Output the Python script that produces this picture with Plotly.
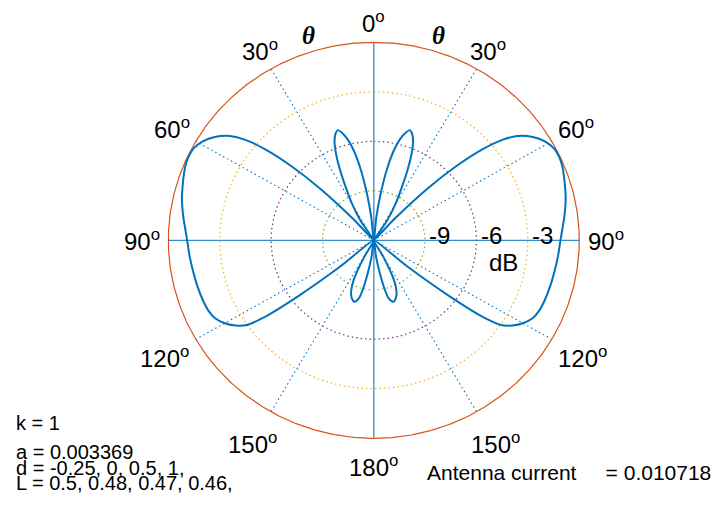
import numpy as np
import plotly.graph_objects as go

# Radiation pattern (one half; the pattern is symmetric about the 0-180 axis)
THETA_DEG = [0, 6, 8, 10, 12, 14, 16, 17.5, 19, 21, 23, 25, 27, 30, 33, 39,
             43, 45, 47, 49, 51, 53, 56, 59, 62, 65, 68, 71, 74, 77, 80, 83, 86,
             90, 95, 100, 105, 110, 114, 117, 120, 122.5, 124.5, 126, 127.5, 129,
             140, 151, 154, 157, 160, 163, 166, 168, 170, 172.5, 180]
GAIN_DB = [-12, -10.6, -9.2, -7.7, -6.5, -5.7, -5.2, -5.0, -5.15, -5.6, -6.4, -7.4, -8.4, -9.5, -10.6, -12,
           -10.2, -7.6, -5.4, -3.6, -2.3, -1.5, -0.8, -0.35, -0.1, -0.05, -0.12, -0.25, -0.38, -0.5, -0.65, -0.8, -0.95,
           -1.1, -1.2, -1.28, -1.33, -1.38, -1.45, -1.6, -1.95, -2.4, -2.9, -4.0, -6.5, -9.5,
           -12, -10.8, -9.3, -8.6, -8.25, -8.1, -8.35, -9.0, -10.0, -11.0, -12]

# Polar grid
R_MIN, R_MAX = -12.0, 0.0
RING_DB = [-9, -6, -3]
RING_COLORS = ["#77AC30", "#7E2F8E", "#EDB120"]
OUTER_COLOR = "#D95319"
SPOKE_DEG = [30, 60, 120, 150, 210, 240, 300, 330]
ANGLE_TICKS = [0, 30, 60, 90, 120, 150, 180, 210, 240, 270, 300, 330]
ANGLE_TEXT = ["0", "30", "60", "90", "120", "150", "180", "150", "120", "90", "60", "30"]

# Annotation block
PARAM_LINES = ["a = 0.003369", "d = -0.25, 0, 0.5, 1,", "L = 0.5, 0.48, 0.47, 0.46,"]
K_TEXT = "k = 1"
CURRENT_LABEL = "Antenna current"
CURRENT_VALUE = 0.010718

BLUE = "#0072BD"
W, H = 716, 505
CX, CY, RX, RY = 373.8, 240.3, 205.5, 198.0   # pixel centre and radii of the 0 dB circle


def to_r(db):
    return np.clip((np.asarray(db, float) - R_MIN) / (R_MAX - R_MIN), 0, None)


def xy(theta_deg, r):
    t = np.radians(np.asarray(theta_deg, float))
    return r * np.sin(t), r * np.cos(t)


def paper(px, py):
    return px / W, 1 - py / H


fig = go.Figure()

# dotted radial spokes
for a in SPOKE_DEG:
    x, y = xy([a, a], np.array([0.0, 1.0]))
    fig.add_trace(go.Scatter(x=x, y=y, mode="lines", hoverinfo="skip",
                             line=dict(color=BLUE, width=1.1, dash="1.5px,3px")))

# dotted rings and solid outer circle
circ = np.linspace(0, 360, 721)
for lvl, col in zip(RING_DB, RING_COLORS):
    x, y = xy(circ, to_r(np.full_like(circ, lvl)))
    fig.add_trace(go.Scatter(x=x, y=y, mode="lines", hoverinfo="skip",
                             line=dict(color=col, width=1.2, dash="1.5px,3px")))
x, y = xy(circ, to_r(np.full_like(circ, R_MAX)))
fig.add_trace(go.Scatter(x=x, y=y, mode="lines", hoverinfo="skip",
                         line=dict(color=OUTER_COLOR, width=1.2)))

# axis lines through the centre
x, y = xy([0, 180], np.array([1.0, 1.0]))
fig.add_trace(go.Scatter(x=x, y=y, mode="lines", hoverinfo="skip",
                         line=dict(color="#5B9FD6", width=1.6)))
x, y = xy([270, 90], np.array([1.0, 1.0]))
fig.add_trace(go.Scatter(x=x, y=y, mode="lines", hoverinfo="skip",
                         line=dict(color=BLUE, width=1)))

# pattern: mirror the half-pattern to the other side
th = np.array(THETA_DEG, float)
g = np.array(GAIN_DB, float)
th_full = np.concatenate([-th[::-1], th[1:]])
g_full = np.concatenate([g[::-1], g[1:]])
x, y = xy(th_full, to_r(g_full))
fig.add_trace(go.Scatter(x=x, y=y, mode="lines", hoverinfo="skip",
                         line=dict(color=BLUE, width=2, shape="spline", smoothing=0.8)))

ann = []
FONT = "Liberation Sans, Arial, sans-serif"

# angle labels
LABEL_R = {0: 1.105, 30: 1.107, 60: 1.135, 90: 1.13, 120: 1.175, 150: 1.18, 180: 1.14}
for a, txt in zip(ANGLE_TICKS, ANGLE_TEXT):
    ref = a if a <= 180 else 360 - a
    rr = LABEL_R[ref]
    x, y = xy([a], np.array([rr]))
    ann.append(dict(x=float(x[0]), y=float(y[0]), xref="x", yref="y",
                    text=txt + "<sup>o</sup>", showarrow=False,
                    xanchor="center", yanchor="middle",
                    font=dict(family=FONT, size=24, color="black")))

# theta markers
for a in (-17, 17):
    x, y = xy([a], np.array([1.08]))
    ann.append(dict(x=float(x[0]), y=float(y[0]), xref="x", yref="y",
                    text="<b><i>θ</i></b>", showarrow=False,
                    xanchor="center", yanchor="middle",
                    font=dict(family="Liberation Serif, Times New Roman, serif", size=25, color="black")))

# radial tick labels
for lvl in RING_DB:
    r = float(to_r([lvl])[0])
    ann.append(dict(x=r + 0.072, y=0.022, xref="x", yref="y", text=str(lvl),
                    showarrow=False, xanchor="center", yanchor="middle",
                    font=dict(family=FONT, size=24, color="black")))
ann.append(dict(x=0.629, y=-0.11, xref="x", yref="y", text="dB", showarrow=False,
                xanchor="center", yanchor="middle",
                font=dict(family=FONT, size=24, color="black")))

# parameter text
px0 = 14
kx, ky = paper(px0, 436)
ann.append(dict(x=kx, y=ky, xref="paper", yref="paper", text=K_TEXT, showarrow=False,
                xanchor="left", yanchor="bottom",
                font=dict(family=FONT, size=20, color="black")))
for i, line in enumerate(PARAM_LINES):
    lx, ly = paper(px0, 465 + 15.5 * i)
    ann.append(dict(x=lx, y=ly, xref="paper", yref="paper", text=line, showarrow=False,
                    xanchor="left", yanchor="bottom",
                    font=dict(family=FONT, size=20, color="black")))
cx_, cy_ = paper(425, 486)
ann.append(dict(x=cx_, y=cy_, xref="paper", yref="paper",
                text=f"{CURRENT_LABEL}\u00a0\u00a0\u00a0\u00a0\u00a0= {CURRENT_VALUE:g}",
                showarrow=False, xanchor="left", yanchor="bottom",
                font=dict(family=FONT, size=21, color="black")))

fig.update_layout(
    width=W, height=H, margin=dict(l=0, r=0, t=0, b=0),
    paper_bgcolor="white", plot_bgcolor="white", showlegend=False,
    xaxis=dict(range=[-CX / RX, (W - CX) / RX], visible=False, fixedrange=True),
    yaxis=dict(range=[(CY - H) / RY, CY / RY], visible=False, fixedrange=True),
    annotations=ann,
)

fig.write_html("out.html")
